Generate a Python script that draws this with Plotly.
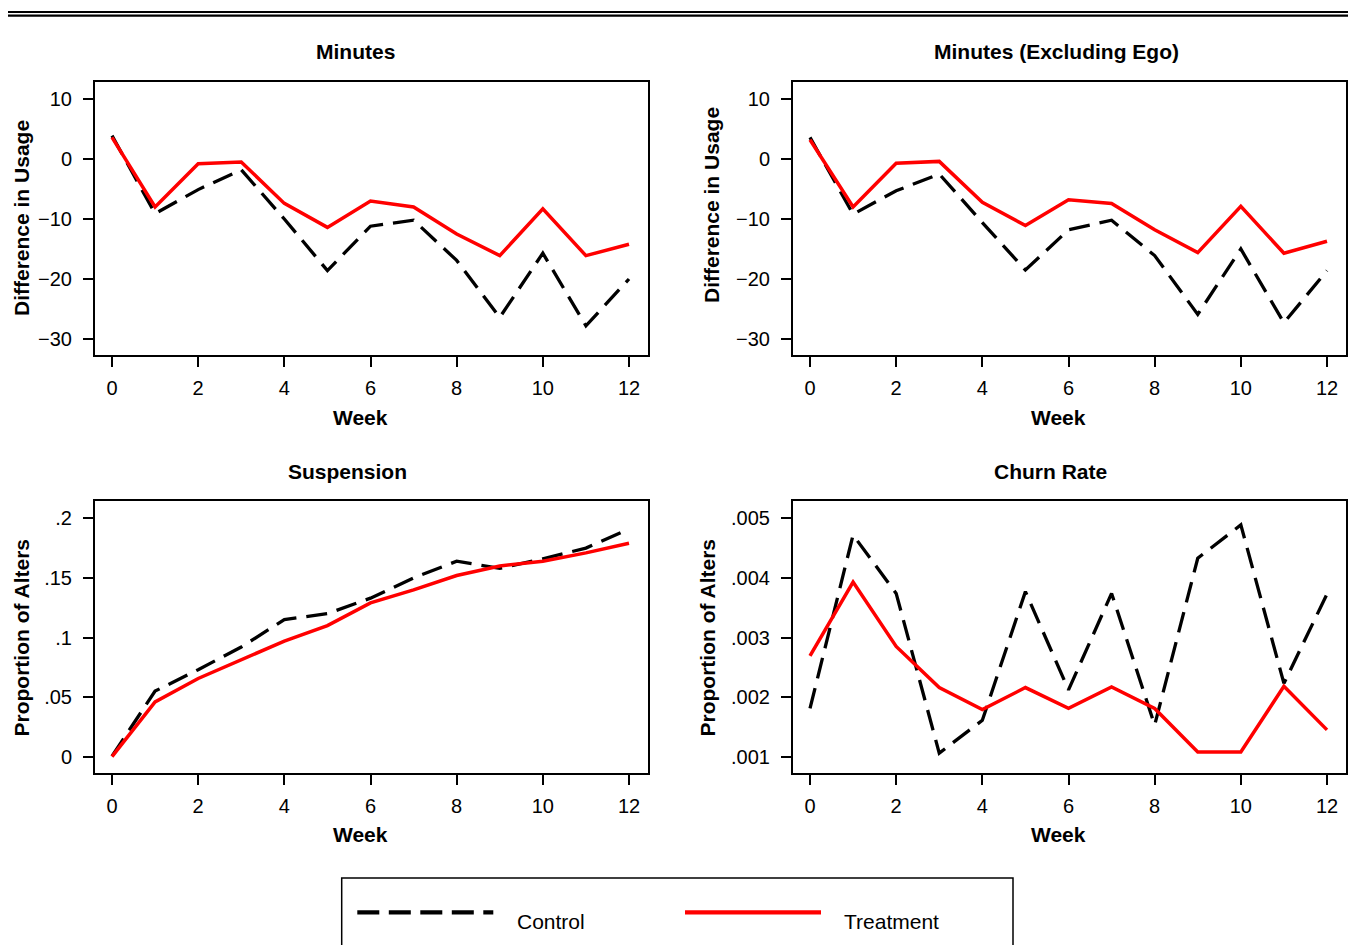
import plotly.graph_objects as go

# ---------------- data ----------------
weeks = list(range(13))
week_ticks = [0, 2, 4, 6, 8, 10, 12]

minutes_control = [3.9, -9.1, -5.1, -1.8, -10.0, -18.6, -11.2, -10.2, -16.9, -26.4, -15.7, -27.8, -20.0]
minutes_treatment = [3.6, -8.0, -0.8, -0.5, -7.4, -11.4, -7.0, -8.0, -12.5, -16.1, -8.3, -16.1, -14.2]

minutes_ex_control = [3.6, -9.2, -5.3, -2.5, -10.6, -18.5, -11.8, -10.2, -16.1, -25.9, -15.0, -27.3, -18.6]
minutes_ex_treatment = [3.2, -8.0, -0.7, -0.4, -7.2, -11.1, -6.8, -7.4, -11.8, -15.6, -7.9, -15.7, -13.7]

suspension_control = [0.0005, 0.055, 0.073, 0.092, 0.115, 0.120, 0.133, 0.150, 0.164, 0.158, 0.166, 0.175, 0.191]
suspension_treatment = [0.0, 0.046, 0.0656, 0.081, 0.097, 0.110, 0.129, 0.140, 0.152, 0.160, 0.164, 0.171, 0.179]

churn_control = [0.00181, 0.00472, 0.00374, 0.00106, 0.00161, 0.00377, 0.00212, 0.00374, 0.00153, 0.00433, 0.00489, 0.00223, 0.00373]
churn_treatment = [0.00269, 0.00393, 0.00285, 0.00216, 0.00179, 0.00216, 0.00181, 0.00217, 0.00181, 0.00108, 0.00108, 0.00218, 0.00145]

usage_ticks = [10, 0, -10, -20, -30]
usage_labels = ["10", "0", "\u221210", "\u221220", "\u221230"]
susp_ticks = [0.2, 0.15, 0.1, 0.05, 0.0]
susp_labels = [".2", ".15", ".1", ".05", "0"]
churn_ticks = [0.005, 0.004, 0.003, 0.002, 0.001]
churn_labels = [".005", ".004", ".003", ".002", ".001"]

panel_titles = ["Minutes", "Minutes (Excluding Ego)", "Suspension", "Churn Rate"]
y_titles = ["Difference in Usage", "Difference in Usage", "Proportion of Alters", "Proportion of Alters"]
x_title = "Week"
series_names = ["Control", "Treatment"]

# ---------------- styling / layout ----------------
W, H = 1351, 945
FONT = "Liberation Sans, Arial, Helvetica, sans-serif"
RED = "#FF0000"
DASH = "21px,10px"


def px_x(x):
    return x / W


def px_y(y):
    return 1 - y / H


fig = go.Figure()

panels = [
    (minutes_control, minutes_treatment, "x", "y"),
    (minutes_ex_control, minutes_ex_treatment, "x2", "y2"),
    (suspension_control, suspension_treatment, "x3", "y3"),
    (churn_control, churn_treatment, "x4", "y4"),
]
for ctrl, trt, xa, ya in panels:
    fig.add_trace(go.Scatter(x=weeks, y=ctrl, mode="lines", name=series_names[0],
                             line=dict(color="black", width=3.3, dash=DASH),
                             xaxis=xa, yaxis=ya, showlegend=False))
    fig.add_trace(go.Scatter(x=weeks, y=trt, mode="lines", name=series_names[1],
                             line=dict(color=RED, width=3.5),
                             xaxis=xa, yaxis=ya, showlegend=False))

x_left = [95, 648]
x_right = [793, 1346]
y_top = [82, 355]
y_bot = [501, 773]

xrange = [-0.3946, 12.441]
tickfont = dict(family=FONT, size=20, color="black")


def xax(dom, anchor):
    return dict(domain=[px_x(dom[0]), px_x(dom[1])], range=xrange, anchor=anchor,
                tickmode="array", tickvals=week_ticks, ticktext=[str(t) for t in week_ticks],
                ticks="outside", ticklen=10, tickwidth=2, tickcolor="black",
                showline=True, linecolor="black", linewidth=2, mirror=True,
                showgrid=False, zeroline=False, tickfont=tickfont,
                ticklabelstandoff=4, fixedrange=True)


def yax(dom, anchor, rng, tv, tt):
    return dict(domain=[px_y(dom[1]), px_y(dom[0])], range=rng, anchor=anchor,
                tickmode="array", tickvals=tv, ticktext=tt,
                ticks="outside", ticklen=10, tickwidth=2, tickcolor="black",
                showline=True, linecolor="black", linewidth=2, mirror=True,
                showgrid=False, zeroline=False, tickfont=tickfont,
                ticklabelstandoff=7, fixedrange=True)


usage_range = [-32.667, 12.833]
susp_range = [-0.01367, 0.21451]
churn_range = [0.0007265, 0.0052903]

fig.update_layout(
    width=W, height=H,
    margin=dict(l=0, r=0, t=0, b=0),
    paper_bgcolor="white", plot_bgcolor="white",
    showlegend=False,
    font=dict(family=FONT, color="black"),
    xaxis=xax(x_left, "y"),
    yaxis=yax(y_top, "x", usage_range, usage_ticks, usage_labels),
    xaxis2=xax(x_right, "y2"),
    yaxis2=yax(y_top, "x2", usage_range, usage_ticks, usage_labels),
    xaxis3=xax(x_left, "y3"),
    yaxis3=yax(y_bot, "x3", susp_range, susp_ticks, susp_labels),
    xaxis4=xax(x_right, "y4"),
    yaxis4=yax(y_bot, "x4", churn_range, churn_ticks, churn_labels),
)

annotations = []
title_pos = [(355.5, 52), (1056.5, 52), (347.5, 471), (1050.5, 471)]
for t, (x, y) in zip(panel_titles, title_pos):
    annotations.append(dict(text="<b>%s</b>" % t, x=px_x(x), y=px_y(y), xref="paper", yref="paper",
                            xanchor="center", yanchor="middle", showarrow=False,
                            font=dict(family=FONT, size=21, color="black")))
ytitle_pos = [(21, 218), (711, 205), (21, 637.5), (707, 637.5)]
for t, (x, y) in zip(y_titles, ytitle_pos):
    annotations.append(dict(text="<b>%s</b>" % t, x=px_x(x), y=px_y(y), xref="paper", yref="paper",
                            xanchor="center", yanchor="middle", showarrow=False, textangle=-90,
                            font=dict(family=FONT, size=21, color="black")))
xtitle_pos = [(360.5, 417), (1058, 417), (360.5, 834), (1058, 834)]
for (x, y) in xtitle_pos:
    annotations.append(dict(text="<b>%s</b>" % x_title, x=px_x(x), y=px_y(y), xref="paper", yref="paper",
                            xanchor="center", yanchor="middle", showarrow=False,
                            font=dict(family=FONT, size=21, color="black")))
# legend labels
annotations.append(dict(text=series_names[0], x=px_x(515), y=px_y(921), xref="paper", yref="paper",
                        xanchor="left", yanchor="middle", showarrow=False,
                        font=dict(family=FONT, size=21, color="black")))
annotations.append(dict(text=series_names[1], x=px_x(842), y=px_y(921), xref="paper", yref="paper",
                        xanchor="left", yanchor="middle", showarrow=False,
                        font=dict(family=FONT, size=21, color="black")))

shapes = []
# double rule at the top
for yy in (12, 15.7):
    shapes.append(dict(type="line", xref="paper", yref="paper", x0=px_x(8), x1=px_x(1348),
                       y0=px_y(yy), y1=px_y(yy), line=dict(color="black", width=2.2)))
# legend box
shapes.append(dict(type="rect", xref="paper", yref="paper", x0=px_x(341.7), x1=px_x(1013),
                   y0=px_y(878), y1=px_y(960), line=dict(color="black", width=1.5),
                   fillcolor="rgba(0,0,0,0)"))
shapes.append(dict(type="line", xref="paper", yref="paper", x0=px_x(357.3), x1=px_x(493.3),
                   y0=px_y(912.3), y1=px_y(912.3), line=dict(color="black", width=4.3, dash="22px,9.5px")))
shapes.append(dict(type="line", xref="paper", yref="paper", x0=px_x(685), x1=px_x(821),
                   y0=px_y(912.3), y1=px_y(912.3), line=dict(color=RED, width=4.3)))

fig.update_layout(annotations=annotations, shapes=shapes)

fig.write_html("out.html", config={"displayModeBar": False},
               post_script="document.body.style.margin='0';document.body.style.overflow='hidden';")
